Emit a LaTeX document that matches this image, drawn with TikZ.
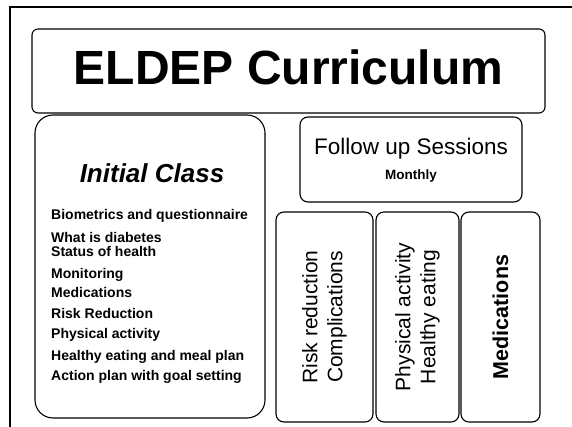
\documentclass[tikz,border=0pt]{standalone}
\usepackage{fontspec}
\setmainfont{Liberation Sans}
\usetikzlibrary{positioning}
\tikzset{
	box/.style={draw, line width=1.1pt, rounded corners=#1, inner sep=0, outer sep=0},
	box/.default=8pt,
	item/.style={font=\fontsize{14}{16}\selectfont\bfseries, anchor=base west, inner sep=0},
	vtext/.style={rotate=90, align=center, font=\fontsize{21}{25}\selectfont, inner sep=0}
}

\begin{document}
\begin{tikzpicture}[x=1pt, y=-1pt]
				\useasboundingbox (0,0) rectangle (572,427);
				%\\ page frame
				\draw[line width=1.6pt] (10,427) -- (10,7) -- (572,7);
				
				\node[box=6pt, minimum width=513pt, minimum height=84pt, text depth=7pt,
					font=\fontsize{48}{50}\selectfont\bfseries] (title) at (288.5,71) {ELDEP Curriculum};
				
				\node[box=18pt, minimum width=230pt, minimum height=303pt] (init) at (150,266.5) {};
				\node[anchor=base, inner sep=0, font=\fontsize{26}{28}\selectfont\bfseries\itshape] (initHead) at (152,183) {Initial Class};
				\foreach \txt/\yy [count=\i] in {Biometrics and questionnaire/220, What is diabetes/243,
					Status of health/257, Monitoring/278, Medications/298, Risk Reduction/318,
					Physical activity/338, Healthy eating and meal plan/360, Action plan with goal setting/380}
					\node[item] (item\i) at (51,\yy) {\txt};
				
				\node[box, minimum width=222pt, minimum height=85pt] (follow) at (411,159.5) {};
				\node[anchor=base, inner sep=0, font=\fontsize{22.5}{24}\selectfont] (followHead) at (411,155) {Follow up Sessions};
				\node[anchor=base, inner sep=0, font=\fontsize{13.5}{15}\selectfont\bfseries] (followSub) at (411,180) {Monthly};
				
				\node[box, minimum width=97pt, minimum height=210pt] (risk) at (324.5,317) {};
				\node[box, minimum width=83pt, minimum height=210pt] (phys) at (417.5,317) {};
				\node[box, minimum width=79pt, minimum height=210pt] (meds) at (500.5,317) {};
				\node[vtext] (riskText) at (risk) {Risk reduction\\Complications};
				\node[vtext] (physText) at (phys) {Physical activity\\Healthy eating};
				\node[vtext, font=\fontsize{21.5}{25}\selectfont\bfseries] (medsText) at (meds) {Medications};
\end{tikzpicture}
\end{document}
